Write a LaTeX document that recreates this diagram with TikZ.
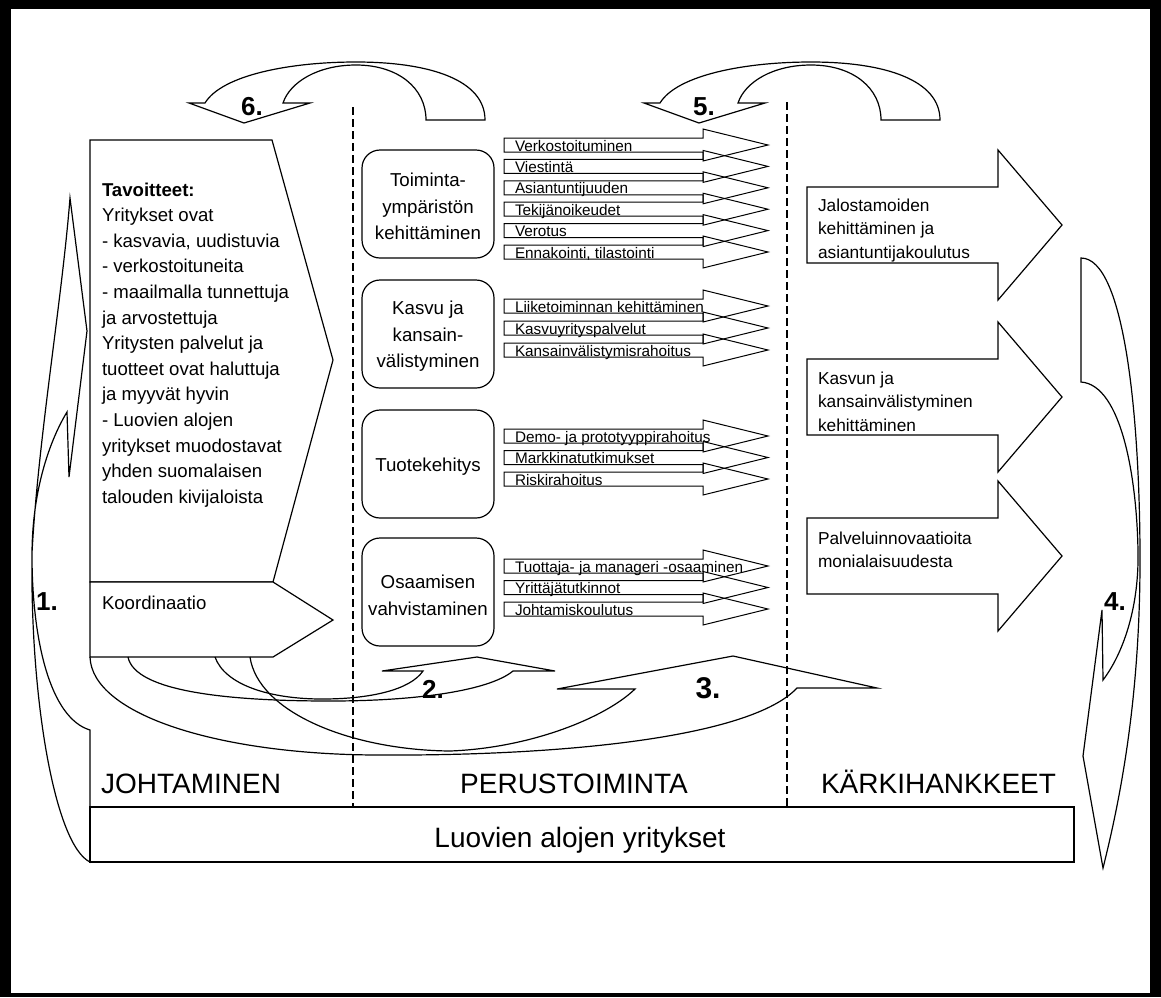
\documentclass[tikz,border=0pt]{standalone}
\usepackage{fontspec}
\setmainfont{Liberation Sans}
\newcommand{\myfs}[1]{\fontsize{#1}{#1}\selectfont}
\begin{document}
\begin{tikzpicture}[x=1pt,y=-1pt,
  every node/.style={inner sep=0pt, outer sep=0pt},
  ln/.style={draw=black, line width=1.2pt},
  sarrow/.style={draw=black, line width=1pt},
  barrow/.style={draw=black, fill=white, line width=1.2pt},
  rbox/.style={draw=black, fill=white, line width=1.2pt, rounded corners=18pt, minimum width=132pt, minimum height=108pt, anchor=north west},
  dashline/.style={draw=black, line width=1.2pt, dash pattern=on 8pt off 4pt},
  tav/.style={font=\myfs{18.6}, anchor=base west},
  rtxt/.style={font=\myfs{18.7}, anchor=base},
  stxt/.style={font=\myfs{15.3}, anchor=base west},
  btxt/.style={font=\myfs{17.3}, anchor=base west},
  lbl/.style={font=\myfs{28}, anchor=base},
  num/.style={font=\myfs{26}\bfseries, anchor=base},
]
\fill[black] (0,0) rectangle (1161,997);
\fill[white] (11,9) rectangle (1150,993);
\useasboundingbox (0,0) rectangle (1161,997);

% dashed separators
\coordinate (d1t) at (353,107); \coordinate (d1b) at (353,807);
\coordinate (d2t) at (787,102); \coordinate (d2b) at (787,807);
\draw[dashline] (d1t) -- (d1b);
\draw[dashline] (d2t) -- (d2b);

% bottom box
\node[draw=black, line width=1.3pt, minimum width=984pt, minimum height=55pt, anchor=north west] (base) at (90,807) {};
\node[lbl] (basetxt) at (580,847) {Luovien alojen yritykset};
\node[lbl] (joh) at (191,793) {JOHTAMINEN};
\node[lbl] (per) at (574,793) {PERUSTOIMINTA};
\node[lbl, anchor=base west] (kar) at (821,793) {KÄRKIHANKKEET};

% left goal box
\draw[ln, fill=white] (90,140) -- (272,140) -- (333,360) -- (273,582) -- (90,582) -- cycle;
\draw[ln, fill=white] (90,582) -- (273,582) -- (333,620) -- (273,657) -- (90,657) -- cycle;
\foreach \t [count=\i] in {{\bfseries Tavoitteet:},{Yritykset ovat},{- kasvavia, uudistuvia},{- verkostoituneita},{- maailmalla tunnettuja},{ja arvostettuja},{Yritysten palvelut ja},{tuotteet ovat haluttuja},{ja myyvät hyvin},{- Luovien alojen},{yritykset muodostavat},{yhden suomalaisen},{talouden kivijaloista}}
  \node[tav] (tav\i) at (102,{196+25.6*(\i-1)}) {\t};
\node[tav] (koord) at (102,609) {Koordinaatio};

% rounded boxes
\node[rbox] (b1) at (362,150) {};
\node[rbox] (b2) at (362,280) {};
\node[rbox] (b3) at (362,410) {};
\node[rbox] (b4) at (362,538) {};
\node[rtxt] (b1a) at (428,186.5) {Toiminta-};
\node[rtxt] (b1b) at (428,213) {ympäristön};
\node[rtxt] (b1c) at (428,239.5) {kehittäminen};
\node[rtxt] (b2a) at (428,314.5) {Kasvu ja};
\node[rtxt] (b2b) at (428,341) {kansain-};
\node[rtxt] (b2c) at (428,367.5) {välistyminen};
\node[rtxt] (b3a) at (428,471.5) {Tuotekehitys};
\node[rtxt] (b4a) at (428,588.5) {Osaamisen};
\node[rtxt] (b4b) at (428,615) {vahvistaminen};

% small arrows
\foreach \c/\t [count=\i] in {145/Verkostoituminen,166.4/Viestintä,187.8/Asiantuntijuuden,209.2/Tekijänoikeudet,230.6/Verotus,252/{Ennakointi{,} tilastointi},
  306/Liiketoiminnan kehittäminen,328/Kasvuyrityspalvelut,350/Kansainvälistymisrahoitus,
  436/Demo- ja prototyyppirahoitus,457.5/Markkinatutkimukset,479/Riskirahoitus,
  566/Tuottaja- ja manageri -osaaminen,587.5/Yrittäjätutkinnot,609/Johtamiskoulutus}
{
  \draw[sarrow] (504,{\c-7}) -- (703,{\c-7}) -- (703,{\c-16}) -- (768,\c) -- (703,{\c+16}) -- (703,{\c+7}) -- (504,{\c+7}) -- cycle;
  \node[stxt] (s\i) at (515,{\c+6}) {\t};
}

% big arrows
\foreach \c in {225,397,556}
  \draw[barrow] (807,{\c-38}) -- (998,{\c-38}) -- (998,{\c-75}) -- (1062,\c) -- (998,{\c+75}) -- (998,{\c+38}) -- (807,{\c+38}) -- cycle;
\node[btxt] (k1a) at (818,211) {Jalostamoiden};
\node[btxt] (k1b) at (818,234.5) {kehittäminen ja};
\node[btxt] (k1c) at (818,258) {asiantuntijakoulutus};
\node[btxt] (k2a) at (818,384) {Kasvun ja};
\node[btxt] (k2b) at (818,407.5) {kansainvälistyminen};
\node[btxt] (k2c) at (818,431) {kehittäminen};
\node[btxt] (k3a) at (818,544) {Palveluinnovaatioita};
\node[btxt] (k3b) at (818,567.5) {monialaisuudesta};

% arrow 6 and 5 (curved down)
\draw[ln, fill=white] (485,120) .. controls (485,80) and (430,62) .. (356,62) .. controls (290,62) and (222,75) .. (205,103) -- (189,103) -- (244,123) -- (310,103) -- (283,103) .. controls (290,82) and (318,65) .. (356,65) .. controls (398,65) and (426,88) .. (426,120) -- cycle;
\draw[ln, fill=white] (940,120) .. controls (940,80) and (885,62) .. (811,62) .. controls (745,62) and (677,75) .. (660,103) -- (644,103) -- (699,123) -- (765,103) -- (738,103) .. controls (745,82) and (773,65) .. (811,65) .. controls (853,65) and (881,88) .. (881,120) -- cycle;
\node[num] (n6) at (252,115) {6.};
\node[num] (n5) at (704,115) {5.};

% arrow 2 and 3 (curved up)
\draw[ln] (128,657) .. controls (135,692) and (230,701) .. (330,701) .. controls (420,701) and (490,690) .. (513,671) -- (555,671) -- (477,657) -- (382,671) -- (423,671) .. controls (410,690) and (370,699) .. (322,699) .. controls (270,699) and (225,685) .. (215,657);
\draw[ln] (90,657) .. controls (92,715) and (220,755) .. (380,755) .. controls (560,756) and (750,738) .. (797,688) -- (877,688) -- (733,656) -- (557,689) -- (635,689) .. controls (605,718) and (530,748) .. (450,751) .. controls (350,750) and (258,712) .. (250,657);
\node[num] (n2) at (433,698) {2.};
\node[num, font=\myfs{30}\bfseries] (n3) at (708,698) {3.};

% arrow 1 (left, up)
\draw[ln] (90,862) .. controls (55,845) and (30,700) .. (32,553) .. controls (38,440) and (62,300) .. (70,198) -- (87,331) -- (69,477) -- (67,412) .. controls (50,440) and (32,490) .. (32,555) .. controls (32,640) and (50,718) .. (90,730) -- cycle;
\node[num] (n1) at (47,610) {1.};

% arrow 4 (right, down)
\draw[ln] (1081,258) .. controls (1125,258) and (1140,420) .. (1140,560) .. controls (1140,700) and (1120,800) .. (1103,868) -- (1083,756) -- (1102,610) -- (1103,680) .. controls (1122,655) and (1139,610) .. (1138,552) .. controls (1137,480) and (1122,385) .. (1081,382) -- cycle;
\node[num] (n4) at (1115,610) {4.};
\end{tikzpicture}
\end{document}
